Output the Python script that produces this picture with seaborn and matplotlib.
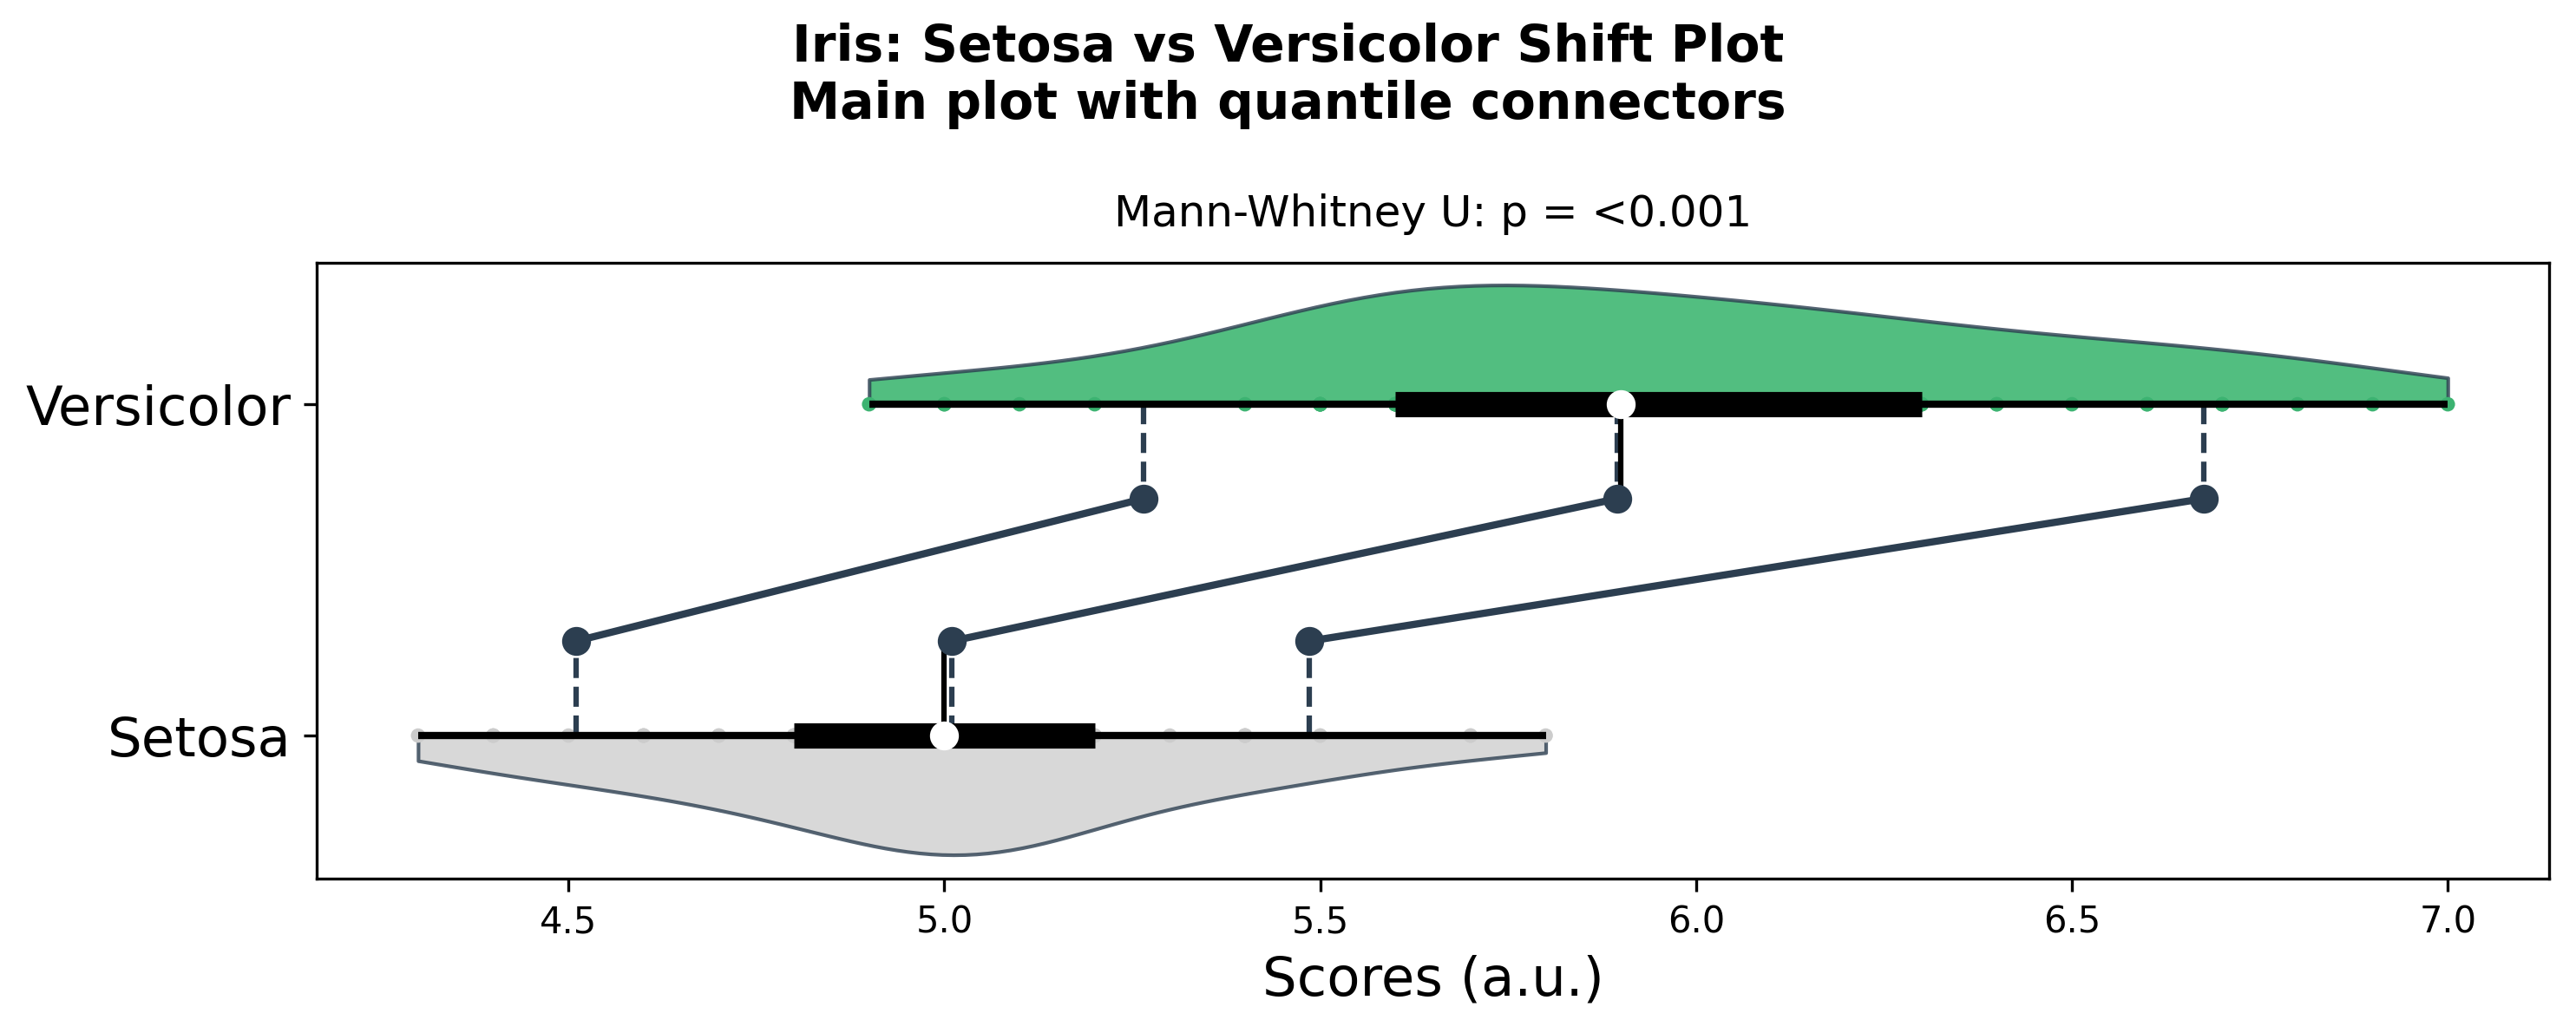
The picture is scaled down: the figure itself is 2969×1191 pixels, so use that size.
import numpy as np
import pandas as pd
import matplotlib
matplotlib.use("Agg")
import matplotlib.pyplot as plt
from matplotlib.patches import Rectangle
import seaborn as sns

# iris sepal length, two species
setosa = [5.1, 4.9, 4.7, 4.6, 5.0, 5.4, 4.6, 5.0, 4.4, 4.9, 5.4, 4.8, 4.8, 4.3, 5.8,
          5.7, 5.4, 5.1, 5.7, 5.1, 5.4, 5.1, 4.6, 5.1, 4.8, 5.0, 5.0, 5.2, 5.2, 4.7,
          4.8, 5.4, 5.2, 5.5, 4.9, 5.0, 5.5, 4.9, 4.4, 5.1, 5.0, 4.5, 4.4, 5.0, 5.1,
          4.8, 5.1, 4.6, 5.3, 5.0]
versicolor = [7.0, 6.4, 6.9, 5.5, 6.5, 5.7, 6.3, 4.9, 6.6, 5.2, 5.0, 5.9, 6.0, 6.1, 5.6,
              6.7, 5.6, 5.8, 6.2, 5.6, 5.9, 6.1, 6.3, 6.1, 6.4, 6.6, 6.8, 6.7, 6.0, 5.7,
              5.5, 5.5, 5.8, 6.0, 5.4, 6.0, 6.7, 6.3, 5.6, 5.5, 5.5, 6.1, 5.8, 5.0, 5.6,
              5.7, 5.7, 6.2, 5.1, 5.7]
groups = ["Versicolor", "Setosa"]

# quantiles (10/50/90) as shown in the plot
setosa_q = [4.51, 5.01, 5.485]
versicolor_q = [5.265, 5.895, 6.675]
p_label = "<0.001"

fill_colors = {"Setosa": "#cfcfcf", "Versicolor": "#27ae60"}
dot_colors = {"Setosa": "#cccccc", "Versicolor": "#3cb371"}
navy = "#2c3e50"

df = pd.DataFrame({
    "group": ["Setosa"] * len(setosa) + ["Versicolor"] * len(versicolor),
    "score": setosa + versicolor,
})

fig, ax = plt.subplots(figsize=(9.897, 3.97), dpi=300)
fig.subplots_adjust(left=0.1229, right=0.9896, bottom=0.1494, top=0.7456)

# half violins: full violin, then clip away one side
for i, g in enumerate(groups):
    sub = df[df.group == g]
    sns.violinplot(data=sub, x="score", y="group", order=groups, color=fill_colors[g],
                   saturation=1, inner=None, cut=0, density_norm="width", width=0.72,
                   linecolor=navy, linewidth=1, alpha=0.8, ax=ax)
    body = ax.collections[-1]
    y0 = i - 1 if g == "Versicolor" else i
    clip = Rectangle((0, y0), 20, 1, transform=ax.transData)
    body.set_clip_path(clip)

sns.stripplot(data=df, x="score", y="group", hue="group", order=groups, hue_order=groups,
              jitter=False, size=4, palette=dot_colors, legend=False, ax=ax, zorder=3)

off = 0.285
q_y = {"Versicolor": 0 + off, "Setosa": 1 - off}
q_vals = {"Versicolor": versicolor_q, "Setosa": setosa_q}

# connectors between matching quantiles
for qs, qv in zip(setosa_q, versicolor_q):
    ax.plot([qs, qv], [q_y["Setosa"], q_y["Versicolor"]], color=navy, lw=2, zorder=4)

for i, g in enumerate(groups):
    vals = df.loc[df.group == g, "score"].to_numpy()
    q1, med, q3 = np.percentile(vals, [25, 50, 75])
    ax.plot([vals.min(), vals.max()], [i, i], color="black", lw=2,
            solid_capstyle="butt", zorder=5)
    ax.plot([q1, q3], [i, i], color="black", lw=7, solid_capstyle="butt", zorder=6)
    for q in q_vals[g]:
        ax.plot([q, q], [i, q_y[g]], color=navy, lw=1.5, ls="--", zorder=4)
    ax.plot([med, med], [i, q_y[g]], color="black", lw=1.5, zorder=5)
    ax.plot(q_vals[g], [q_y[g]] * len(q_vals[g]), "o", color=navy, ms=7, zorder=7)
    ax.plot(med, i, "o", color="white", ms=7, zorder=8)

ax.set_ylim(1.432, -0.427)
ax.set_ylabel("")
ax.set_xlabel("Scores (a.u.)", fontsize=15)
ax.tick_params(axis="y", labelsize=15)
ax.tick_params(axis="x", labelsize=10)
ax.set_title(f"Mann-Whitney U: p = {p_label}", fontsize=12, pad=10)
fig.suptitle("Iris: Setosa vs Versicolor Shift Plot\nMain plot with quantile connectors",
             fontsize=14, fontweight="bold", y=0.978)

fig.savefig("out.png", dpi=300)
